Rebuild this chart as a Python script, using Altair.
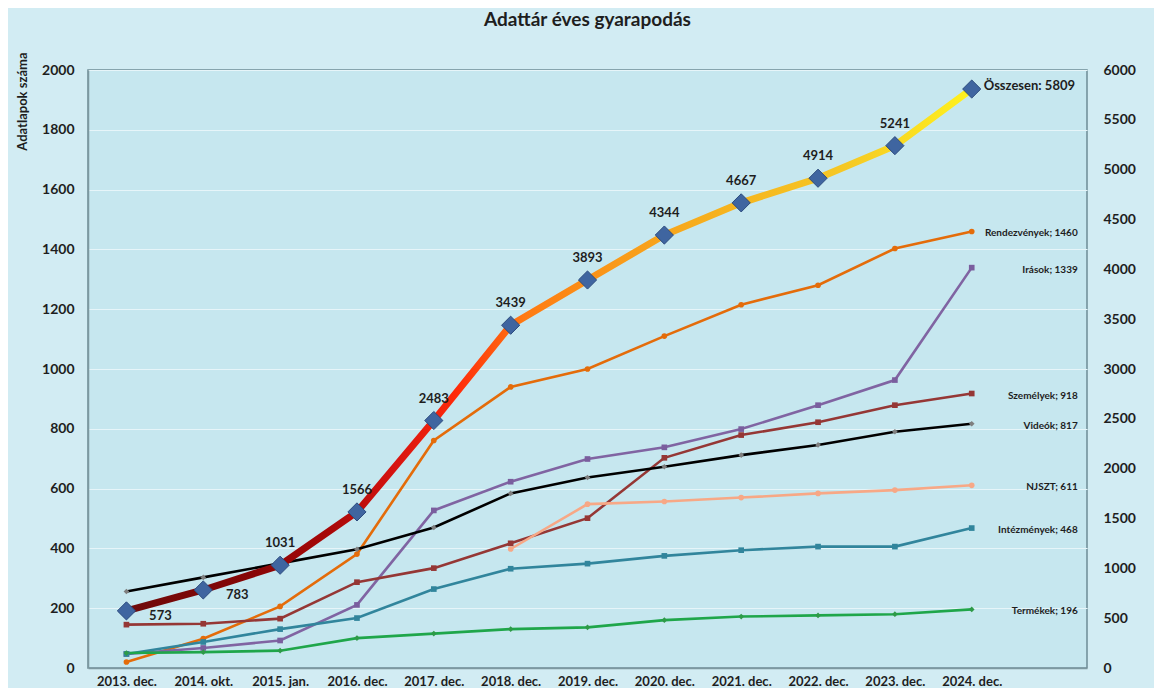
import altair as alt
import pandas as pd

categories = ["2013. dec.", "2014. okt.", "2015. jan.", "2016. dec.", "2017. dec.", "2018. dec.",
              "2019. dec.", "2020. dec.", "2021. dec.", "2022. dec.", "2023. dec.", "2024. dec."]
total = [573, 783, 1031, 1566, 2483, 3439, 3893, 4344, 4667, 4914, 5241, 5809]
rendezvenyek = [20, 98, 206, 381, 761, 940, 1000, 1110, 1215, 1280, 1403, 1460]
irasok = [47, 67, 92, 211, 527, 623, 699, 738, 799, 879, 963, 1339]
szemelyek = [145, 148, 165, 287, 334, 417, 501, 703, 779, 822, 879, 918]
videok = [256, 303, 350, 397, 470, 584, 637, 673, 712, 746, 790, 817]
njszt = [None, None, None, None, None, 398, 548, 557, 570, 584, 595, 611]
intezmenyek = [47, 87, 130, 167, 264, 332, 349, 375, 394, 406, 406, 468]
termekek = [50, 53, 58, 100, 115, 130, 136, 160, 172, 176, 180, 196]

series_names = ["Rendezvények", "Irások", "Személyek", "Videók", "NJSZT", "Intézmények", "Termékek"]
series_values = [rendezvenyek, irasok, szemelyek, videok, njszt, intezmenyek, termekek]
line_colors = ["#E46C0A", "#8064A2", "#953735", "#000000", "#F7A886", "#31859C", "#1FA64A"]
marker_colors = ["#E46C0A", "#7A5E9E", "#953735", "#7F7F7F", "#F7A886", "#31859C", "#2E9A48"]
marker_shapes = ["circle", "square", "square", "diamond", "circle", "square", "diamond"]
total_name = "Összesen"

FONT = "Lato"
TXT = "#1E1E1E"

rows = []
for name, vals in zip(series_names, series_values):
    for i, (c, v) in enumerate(zip(categories, vals)):
        if v is not None:
            rows.append({"cat": c, "idx": i, "series": name, "value": v})
df = pd.DataFrame(rows)

last_rows = []
for name, vals in zip(series_names, series_values):
    last_rows.append({"cat": categories[-1], "series": name, "value": vals[-1],
                      "label": f"{name}; {vals[-1]}"})
df_last = pd.DataFrame(last_rows)

df_tot = pd.DataFrame({"cat": categories, "idx": list(range(len(categories))), "value": total,
                       "label": [str(v) for v in total]})
df_tot["endlabel"] = [f"{total_name}: {v}" for v in total]

x_domain = categories + [" "]
x_enc = alt.X("cat:N", sort=None, scale=alt.Scale(type="point", domain=x_domain),
              axis=alt.Axis(title=None, labelAngle=0, ticks=False, grid=False, labelFont=FONT,
                            labelFontSize=13, labelFontWeight="bold", labelColor=TXT,
                            labelPadding=7, domainColor="#7D98A0", domainWidth=1.5))

left_axis = alt.Axis(values=list(range(0, 2001, 200)), format="d", title="Adatlapok száma", grid=True,
                     gridColor="#E6F5F9", gridWidth=1, ticks=False, domainColor="#7D98A0",
                     domainWidth=1.5, labelFont=FONT, labelFontSize=14, labelFontWeight="bold",
                     labelColor=TXT, labelPadding=14, titleFont=FONT, titleFontSize=13,
                     titleFontWeight="bold", titleColor=TXT, titleAngle=-90, titleAlign="right",
                     titleBaseline="middle", titleX=-66, titleY=-18)
y_left = alt.Y("value:Q", scale=alt.Scale(domain=[0, 2000]), axis=left_axis)

color_scale = alt.Scale(domain=series_names, range=line_colors)
fill_scale = alt.Scale(domain=series_names, range=marker_colors)
shape_scale = alt.Scale(domain=series_names, range=marker_shapes)

base = alt.Chart(df)
lines = base.mark_line(strokeWidth=2.6).encode(
    x=x_enc, y=y_left,
    color=alt.Color("series:N", scale=color_scale, legend=None),
    detail="series:N")
points = base.mark_point(filled=True, size=32, opacity=1).encode(
    x=x_enc, y=y_left,
    fill=alt.Fill("series:N", scale=fill_scale, legend=None),
    shape=alt.Shape("series:N", scale=shape_scale, legend=None))
end_labels = alt.Chart(df_last).mark_text(align="right", baseline="middle", dx=106, dy=2,
                                           font=FONT, fontSize=10, fontWeight="bold",
                                           color=TXT).encode(
    x=x_enc, y=y_left, text="label:N")

left = alt.layer(lines, points, end_labels)

right_axis = alt.Axis(orient="right", values=list(range(0, 6001, 500)), format="d", title=None, grid=False,
                      ticks=False, domain=False, labelFont=FONT, labelFontSize=14,
                      labelFontWeight="bold", labelColor=TXT, labelPadding=16)
y_right = alt.Y("value:Q", scale=alt.Scale(domain=[0, 6000]), axis=right_axis)

grad = alt.Gradient(gradient="linear", x1=0, x2=1, y1=0, y2=0, stops=[
    alt.GradientStop(offset=0.0, color="#6E0A0A"),
    alt.GradientStop(offset=0.14, color="#850606"),
    alt.GradientStop(offset=0.24, color="#A80808"),
    alt.GradientStop(offset=0.32, color="#D81410"),
    alt.GradientStop(offset=0.39, color="#FF2A0A"),
    alt.GradientStop(offset=0.47, color="#FF7A12"),
    alt.GradientStop(offset=0.58, color="#F99A1A"),
    alt.GradientStop(offset=0.70, color="#F6B21E"),
    alt.GradientStop(offset=0.85, color="#F5C825"),
    alt.GradientStop(offset=1.0, color="#FFF21E"),
])

tbase = alt.Chart(df_tot)
tline = tbase.mark_line(stroke=grad, strokeWidth=7).encode(x=x_enc, y=y_right)
tpoints = tbase.mark_point(shape="diamond", filled=True, size=330, fill="#3F65A0",
                           stroke="#2C4B7E", strokeWidth=1, opacity=1).encode(x=x_enc, y=y_right)
tlab_first = tbase.mark_text(dx=34, dy=5, font=FONT, fontSize=13, fontWeight="bold",
                             color=TXT).encode(x=x_enc, y=y_right, text="label:N").transform_filter(
    "datum.idx < 2")
tlab_mid = tbase.mark_text(dy=-22, font=FONT, fontSize=13, fontWeight="bold",
                           color=TXT).encode(x=x_enc, y=y_right, text="label:N").transform_filter(
    f"datum.idx >= 2 && datum.idx < {len(categories) - 1}")
tlab_last = tbase.mark_text(align="left", dx=12, dy=-3, font=FONT, fontSize=13, fontWeight="bold",
                            color=TXT).encode(x=x_enc, y=y_right, text="endlabel:N").transform_filter(
    f"datum.idx == {len(categories) - 1}")

right = alt.layer(tline, tpoints, tlab_first, tlab_mid, tlab_last)

chart = alt.layer(left, right).resolve_scale(y="independent").properties(
    width=999, height=598,
    autosize=alt.AutoSizeParams(type="none"),
    padding={"left": 80, "top": 62, "right": 67, "bottom": 20},
    title=alt.TitleParams("Adattár éves gyarapodás", font=FONT, fontSize=19, fontWeight="bold",
                          color=TXT, anchor="middle", offset=22),
).configure(background="#D2ECF3").configure_view(fill="#C6E7EF", stroke="#6E8C96", strokeWidth=1.5)

chart.save("out.html", embed_options={"renderer": "svg", "actions": False})
